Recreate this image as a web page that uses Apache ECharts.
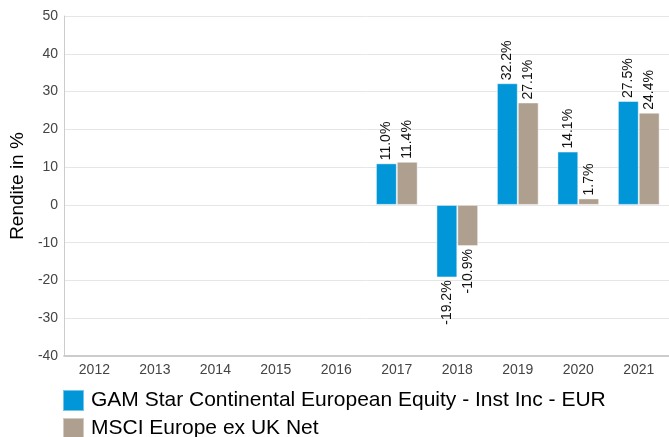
<!DOCTYPE html>
<html>
<head>
<meta charset="utf-8">
<script src="https://cdn.jsdelivr.net/npm/echarts@6/dist/echarts.min.js"></script>
<style>
  html, body { margin: 0; padding: 0; background: #fff; }
  #chart { width: 669px; height: 437px; }
</style>
</head>
<body>
<div id="chart"></div>
<script>
// Daten
const years = ['2012', '2013', '2014', '2015', '2016', '2017', '2018', '2019', '2020', '2021']
const fundName = 'GAM Star Continental European Equity - Inst Inc - EUR'
const indexName = 'MSCI Europe ex UK Net'
const fundValues = [null, null, null, null, null, 11.0, -19.2, 32.2, 14.1, 27.5]
const indexValues = [null, null, null, null, null, 11.4, -10.9, 27.1, 1.7, 24.4]

const font = 'Liberation Sans, Arial, sans-serif'

// Beschriftung oben bei positiven, unten bei negativen Werten
function withLabels(values) {
  return values.map(v => {
    if (v === null) return null
    const neg = v < 0
    return {
      value: v,
      label: {
        show: true,
        position: neg ? 'bottom' : 'top',
        rotate: 90,
        align: neg ? 'right' : 'left',
        verticalAlign: 'middle',
        distance: 3,
        formatter: v.toFixed(1) + '%',
        color: '#111',
        fontSize: 14,
        fontFamily: font
      }
    }
  })
}

const myChart = echarts.init(document.getElementById('chart'))
const option = {
  animation: false,
  color: ['#0096d7', '#ae9f8f'],
  grid: {
    left: 63,
    top: 16,
    width: 609,
    height: 340
  },
  legend: {
    orient: 'vertical',
    left: 62,
    top: 389,
    height: 60,
    padding: 0,
    itemWidth: 21,
    itemHeight: 21,
    itemGap: 5,
    icon: 'rect',
    textStyle: {
      fontSize: 21,
      lineHeight: 21,
      color: '#000',
      fontFamily: font,
      padding: [0, 0, 0, 2]
    },
    data: [fundName, indexName]
  },
  xAxis: {
    type: 'category',
    data: years,
    axisLine: { onZero: false, lineStyle: { color: '#cccccc', width: 2 } },
    axisTick: { show: false },
    axisLabel: { color: '#444', fontSize: 14, fontFamily: font, margin: 7 }
  },
  yAxis: {
    type: 'value',
    min: -40,
    max: 50,
    interval: 10,
    name: 'Rendite in %',
    nameLocation: 'middle',
    nameGap: 37,
    nameTextStyle: { fontSize: 19, color: '#000', fontFamily: font },
    axisLine: { show: true, lineStyle: { color: '#cccccc', width: 1 } },
    axisTick: { show: false },
    axisLabel: { color: '#444', fontSize: 14, fontFamily: font, margin: 6 },
    splitLine: { lineStyle: { color: '#e6e6e6', width: 1 } }
  },
  series: [
    {
      name: fundName,
      type: 'bar',
      data: withLabels(fundValues),
      barGap: '0%',
      barCategoryGap: '31%',
      itemStyle: { borderColor: 'rgba(255,255,255,0.45)', borderWidth: 1 }
    },
    {
      name: indexName,
      type: 'bar',
      data: withLabels(indexValues),
      barGap: '0%',
      barCategoryGap: '31%',
      itemStyle: { borderColor: 'rgba(255,255,255,0.45)', borderWidth: 1 }
    }
  ]
}
myChart.setOption(option)
window.addEventListener('resize', () => {
  myChart.resize()
}, false)
</script>
</body>
</html>
